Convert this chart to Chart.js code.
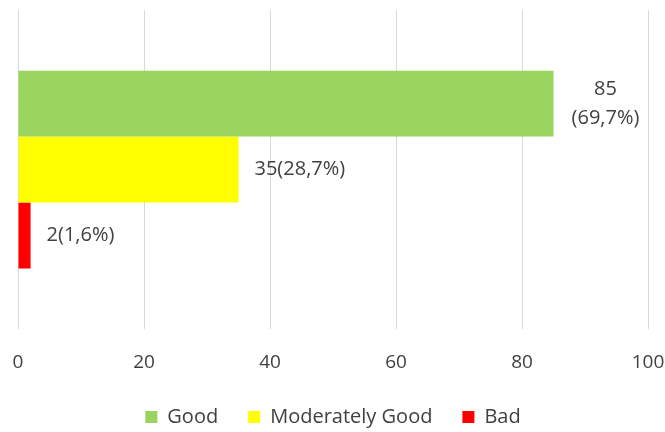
<!DOCTYPE html>
<html>
<head>
<meta charset="utf-8">
<script src="https://cdn.jsdelivr.net/npm/chart.js@4/dist/chart.umd.min.js"></script>
<style>
    html, body { margin: 0; padding: 0; background: #ffffff; }
    #wrap { width: 665px; height: 432px; }
</style>
</head>
<body>
<div id="wrap"><canvas id="myChart"></canvas></div>
<script>
var categories = ["Rating"];
var seriesNames = ["Good", "Moderately Good", "Bad"];
var goodValues = [85];
var moderateValues = [35];
var badValues = [2];
var xTicks = [0, 20, 40, 60, 80, 100];

var textColor = "#404040";
var fontFamily = "'Open Sans', 'Liberation Sans', sans-serif";

// value(percent%) next to each bar, wraps onto two lines when it runs into the right edge
var barLabels = {
    id: "barLabels",
    afterDatasetsDraw: function (chart) {
        var ctx = chart.ctx;
        var area = chart.chartArea;
        var total = 0;
        chart.data.datasets.forEach(function (ds) { total += ds.data[0]; });
        ctx.save();
        ctx.font = "20px " + fontFamily;
        ctx.fillStyle = textColor;
        ctx.textBaseline = "middle";
        chart.data.datasets.forEach(function (ds, i) {
            var bar = chart.getDatasetMeta(i).data[0];
            var v = ds.data[0];
            var pct = "(" + (v / total * 100).toFixed(1).replace(".", ",") + "%)";
            var text = v + pct;
            var x = bar.x + 16;
            if (x + ctx.measureText(text).width > area.right) {
                var cx = bar.x + 52;
                ctx.textAlign = "center";
                ctx.fillText(String(v), cx, bar.y - 14);
                ctx.fillText(pct, cx, bar.y + 15);
            } else {
                ctx.textAlign = "left";
                ctx.fillText(text, x, bar.y);
            }
        });
        ctx.restore();
    }
};

var ctx = document.getElementById("myChart").getContext("2d");
var chart = new Chart(ctx, {
    type: "bar",
    data: {
        labels: categories,
        datasets: [
            { label: seriesNames[0], data: goodValues, backgroundColor: "#9bd35f" },
            { label: seriesNames[1], data: moderateValues, backgroundColor: "#ffff00" },
            { label: seriesNames[2], data: badValues, backgroundColor: "#ff0000" }
        ]
    },
    options: {
        indexAxis: "y",
        responsive: true,
        maintainAspectRatio: false,
        animation: false,
        layout: { padding: { top: 10, left: 18, right: 17, bottom: -5 } },
        datasets: {
            bar: { barPercentage: 1, categoryPercentage: 0.62 }
        },
        scales: {
            x: {
                min: 0,
                max: 100,
                afterBuildTicks: function (axis) {
                    axis.ticks = xTicks.map(function (v) { return { value: v }; });
                },
                afterFit: function (axis) {
                    // let the tick labels sit in the legend's top padding
                    axis.paddingLeft = 0;
                    axis.paddingRight = 0;
                    axis.height -= 19;
                },
                grid: { color: "#d9d9d9", lineWidth: 1, drawTicks: false },
                border: { display: false },
                ticks: {
                    padding: 22,
                    maxRotation: 0,
                    color: textColor,
                    font: { family: fontFamily, size: 19 }
                }
            },
            y: { display: false }
        },
        plugins: {
            legend: {
                position: "bottom",
                labels: {
                    boxWidth: 12,
                    boxHeight: 12,
                    padding: 30,
                    color: textColor,
                    font: { family: fontFamily, size: 20 }
                }
            },
            tooltip: { enabled: false }
        }
    },
    plugins: [barLabels]
});
</script>
</body>
</html>
